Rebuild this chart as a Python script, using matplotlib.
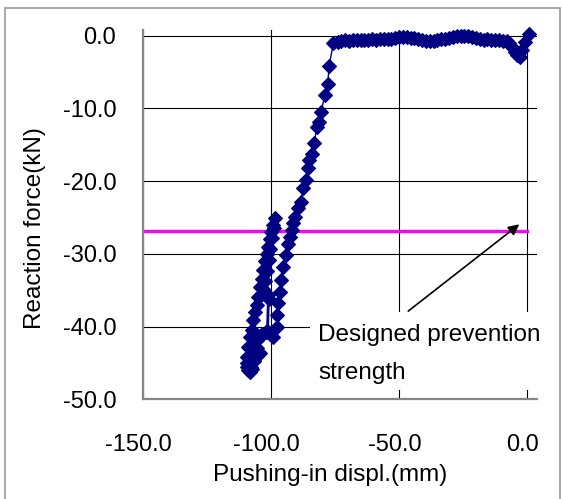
import matplotlib
matplotlib.use("Agg")
import matplotlib.pyplot as plt
import matplotlib.transforms as mtransforms
from matplotlib.patches import Rectangle
from matplotlib.ticker import FormatStrFormatter

plt.rcParams['font.family'] = ['Liberation Sans', 'DejaVu Sans']

# pushing-in displacement (mm) and reaction force (kN)
# initial dip near 0
disp_start = [0.8, -0.9, -1.9, -2.9, -3.8, -4.8, -6.1, -7.2, -8.0]
force_start = [0.3, -0.8, -1.9, -2.9, -2.7, -2.3, -1.5, -1.0, -0.7]

# flat part (sliding)
disp_flat = [-9.5, -11, -12.5, -14, -15.5, -17, -18.5, -20, -21.5, -23, -24.5, -26,
             -27.5, -29, -30.5, -32, -33.5, -35, -36.5, -38, -39.5, -41, -42.5, -44,
             -45.5, -47, -48.5, -50, -51.5, -53, -54.5, -56, -57.5, -59, -60.5, -62,
             -63.5, -65, -66.5, -68, -69.5, -71, -72.5, -74, -75.6]
force_flat = [-0.7, -0.6, -0.55, -0.6, -0.5, -0.55, -0.45, -0.35, -0.2, -0.1, -0.05, -0.1,
              -0.05, -0.2, -0.35, -0.4, -0.45, -0.55, -0.7, -0.75, -0.7, -0.6, -0.45, -0.3,
              -0.25, -0.2, -0.15, -0.2, -0.3, -0.4, -0.45, -0.5, -0.5, -0.55, -0.5, -0.55,
              -0.6, -0.55, -0.6, -0.65, -0.7, -0.65, -0.7, -0.8, -1.05]

# loading branch
disp_load = [-77.3, -77.8, -78.9, -80.5, -81.1, -81.9, -83.2, -84.1, -85.0, -85.6, -86.3,
             -87.4, -88.4, -89.3, -90.6, -91.2, -91.9, -92.6, -93.2, -94.2, -95.2, -96.2,
             -96.5, -97.1, -97.5, -97.7, -99.1]
force_load = [-4.1, -6.7, -8.2, -10.5, -11.8, -12.5, -14.8, -16.2, -17.1, -18.2, -19.8,
              -21.0, -22.8, -23.7, -24.9, -25.8, -26.7, -27.7, -28.6, -30.2, -31.8, -33.6,
              -35.2, -36.8, -38.4, -40.0, -41.4]

# loop at the bottom
disp_loop = [-100.5, -102.0, -103.5, -104.8, -105.5, -104.3, -106.5, -107.5, -108.2,
             -109.3, -109.5, -109.0, -108.2, -107.5, -106.9, -106.2, -105.5, -104.9,
             -104.2, -103.6, -103.0, -102.3, -101.6, -101.0, -100.4, -99.8, -99.1, -98.4,
             -98.8, -99.5, -100.2, -100.9, -101.5, -102.2, -102.8, -104.2, -101.2, -101.6,
             -100.7, -101.0, -103.8, -105.5, -107.2, -108.5, -109.2, -108.8, -107.6,
             -106.4, -105.2]
force_loop = [-41.0, -40.8, -41.0, -41.5, -43.0, -43.7, -44.5, -45.8, -46.3,
              -45.5, -44.2, -42.8, -41.5, -40.5, -39.1, -38.0, -37.0, -35.9,
              -34.5, -33.4, -32.2, -31.0, -30.0, -29.0, -28.0, -27.0, -26.0, -25.0,
              -26.5, -27.8, -29.3, -30.8, -32.3, -33.8, -35.0, -35.8, -35.6, -40.6,
              -36.2, -40.8, -41.3, -41.8, -42.5, -44.0, -45.0, -46.0, -45.6,
              -44.8, -43.9]

disp = disp_start + disp_flat + disp_load + disp_loop
force = force_start + force_flat + force_load + force_loop

design_strength = -26.8
xticks = [-150, -100, -50, 0]
yticks = [-50, -40, -30, -20, -10, 0]

fig = plt.figure(figsize=(5.63, 4.99), dpi=100)
ax = fig.add_axes([142.7 / 563, 1 - 399.3 / 499, 394 / 563, 369.4 / 499])

ax.set_xlim(-150, 3.7)
ax.set_ylim(-50, 0.8)
ax.set_xticks(xticks)
ax.set_yticks(yticks)
ax.xaxis.set_major_formatter(FormatStrFormatter('%.1f'))
ax.yaxis.set_major_formatter(FormatStrFormatter('%.1f'))
ax.set_axisbelow(True)
ax.grid(True, color='black', lw=0.8)

for s in ['top', 'right']:
    ax.spines[s].set_visible(False)
for s in ['left', 'bottom']:
    ax.spines[s].set_color('#868686')
    ax.spines[s].set_linewidth(1.6)
    ax.spines[s].set_zorder(6)

ax.tick_params(axis='both', length=0, labelsize=17)
ax.tick_params(axis='x', pad=25)
ax.tick_params(axis='y', pad=19)
shift = mtransforms.ScaledTranslation(-4.5 / 100, 0, fig.dpi_scale_trans)
for lab in ax.get_xticklabels():
    lab.set_transform(lab.get_transform() + shift)

# white box behind the note
ax.add_patch(Rectangle((-84.75, -48.7), 95, 10.74, facecolor='white',
                       edgecolor='none', zorder=1, clip_on=False))

ax.plot([-150, 0], [design_strength, design_strength], color='#FF00FF', lw=2.4, zorder=2)

ax.plot(disp, force, color='#000080', lw=1.0, marker='D', ms=7,
        mfc='#000080', mec='#000080', mew=0.8, zorder=3, clip_on=False)

ax.annotate('', xy=(-3.1, -25.94), xytext=(-46.4, -37.87),
            arrowprops=dict(arrowstyle='-|>', color='black', lw=1.2,
                            mutation_scale=16, shrinkA=0, shrinkB=0),
            zorder=4)
ax.text(-81.5, -41.95, 'Designed prevention', fontsize=17.5, va='baseline',
        ha='left', zorder=5, clip_on=False)
ax.text(-81.5, -47.22, 'strength', fontsize=17.5, va='baseline', ha='left', zorder=5)

fig.text(329.8 / 563, 1 - 475.4 / 499, 'Pushing-in displ.(mm)', fontsize=17.5,
         ha='center', va='center')
fig.text(35 / 563, 1 - 228.5 / 499, 'Reaction force(kN)', fontsize=17.5,
         ha='center', va='center', rotation=90)

# outer chart frame
fig.add_artist(Rectangle((5 / 563, -0.02), 555 / 563, 1.02 - 8.3 / 499,
                         transform=fig.transFigure, facecolor='none',
                         edgecolor='#9a9a9a', lw=1.2))

fig.savefig('out.png', dpi=100)
